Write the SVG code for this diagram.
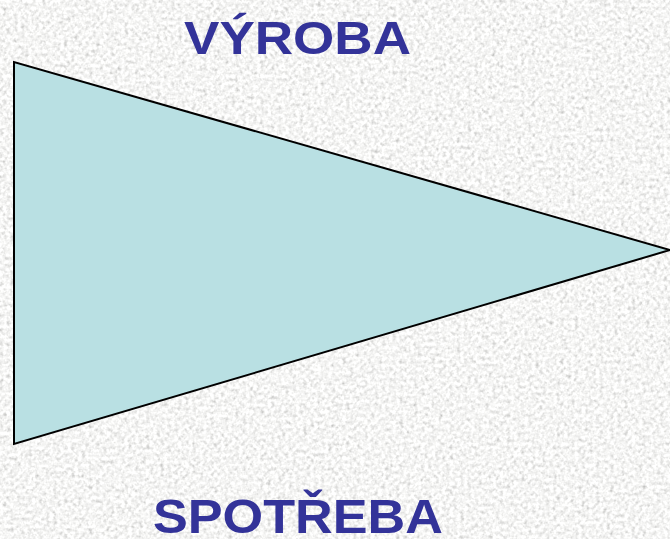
<svg xmlns="http://www.w3.org/2000/svg" width="670" height="539" viewBox="0 0 670 539">
  <style>
    .title { font-family: "Liberation Sans", Arial, sans-serif; font-weight: bold; fill: #333399; }
  </style>
  <defs>
    <filter id="granite" x="0" y="0" width="100%" height="100%">
      <feTurbulence type="fractalNoise" baseFrequency="0.28" numOctaves="2" seed="7" result="n"/>
      <feColorMatrix type="matrix" in="n" values="0.33 0.33 0.33 0 0  0.33 0.33 0.33 0 0  0.33 0.33 0.33 0 0  0 0 0 0 1" result="g"/>
      <feComponentTransfer in="g">
        <feFuncR type="linear" slope="1.3" intercept="0.27"/>
        <feFuncG type="linear" slope="1.3" intercept="0.27"/>
        <feFuncB type="linear" slope="1.3" intercept="0.26"/>
      </feComponentTransfer>
    </filter>
  </defs>
  <rect id="background" x="0" y="0" width="670" height="539" fill="#e6e6e4" filter="url(#granite)"/>
  <g id="triangle">
    <polygon points="14,62 14,444 670,250" fill="#b9e0e3" stroke="#000000" stroke-width="2" stroke-linejoin="miter"/>
  </g>
  <g id="label-vyroba">
    <text class="title" x="184" y="54" font-size="47" textLength="227" lengthAdjust="spacingAndGlyphs">VÝROBA</text>
  </g>
  <g id="label-spotreba">
    <text class="title" x="153" y="533" font-size="49" textLength="290" lengthAdjust="spacingAndGlyphs">SPOTŘEBA</text>
  </g>
</svg>
